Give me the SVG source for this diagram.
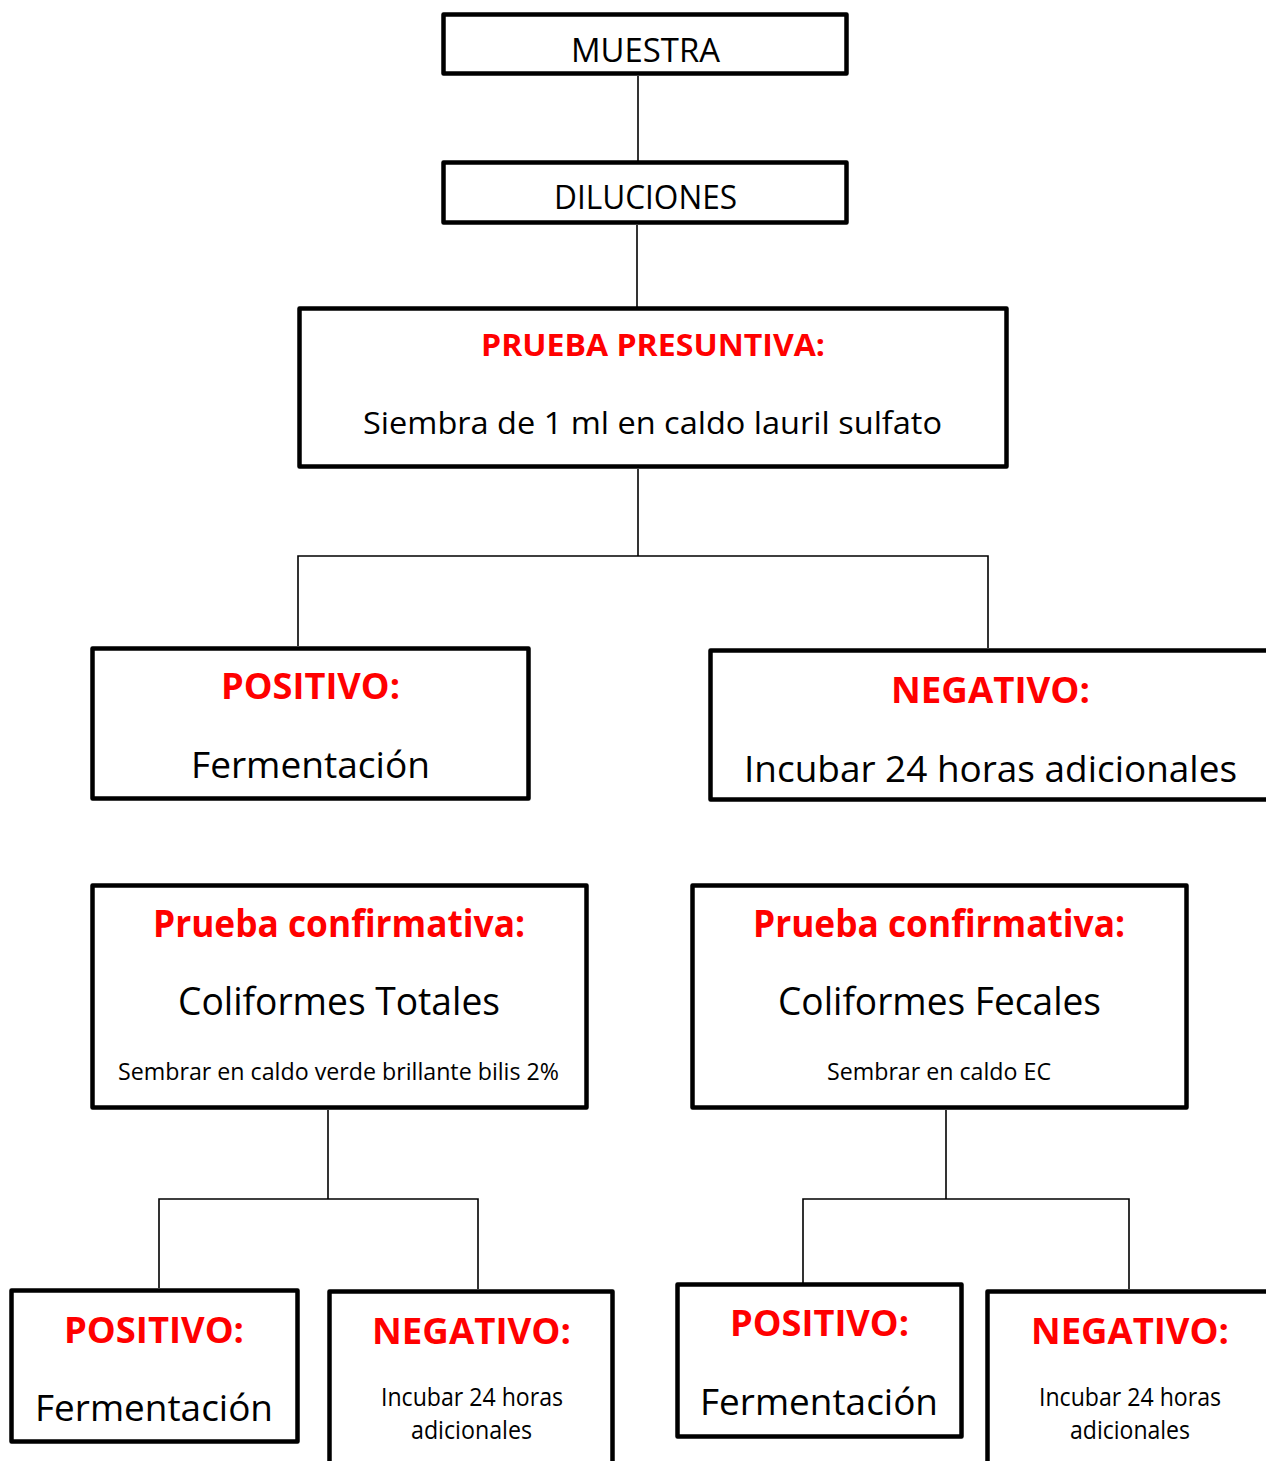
<svg xmlns="http://www.w3.org/2000/svg" width="1266" height="1461" viewBox="0 0 1266 1461">
<style>
.box{fill:#fff;stroke:#000;stroke-width:4.5;stroke-linejoin:round}
.ln{stroke:#000;stroke-width:1.6;fill:none}
text{font-family:"Open Sans","Noto Sans","Liberation Sans",sans-serif;text-anchor:middle;fill:#000}
.t{fill:#ff0000;font-weight:bold}
</style>
<rect width="1266" height="1461" fill="#fff"/>
<g id="connectors">
<line class="ln" x1="638" y1="76" x2="638" y2="162"/>
<line class="ln" x1="637" y1="225" x2="637" y2="308"/>
<polyline class="ln" points="638,469 638,556"/>
<polyline class="ln" points="298,646 298,556 988,556 988,648"/>
<polyline class="ln" points="328,1110 328,1199"/>
<polyline class="ln" points="159,1288 159,1199 478,1199 478,1289"/>
<polyline class="ln" points="946,1110 946,1199"/>
<polyline class="ln" points="803,1283 803,1199 1129,1199 1129,1289"/>
</g>
<g id="muestra">
<rect class="box" x="443.5" y="14.5" width="403" height="59"/>
<text x="645.5" y="62" font-size="32" textLength="149" lengthAdjust="spacingAndGlyphs">MUESTRA</text>
</g>
<g id="diluciones">
<rect class="box" x="443.5" y="162.5" width="403" height="60"/>
<text x="645.5" y="209" font-size="32" textLength="183" lengthAdjust="spacingAndGlyphs">DILUCIONES</text>
</g>
<g id="presuntiva">
<rect class="box" x="299.5" y="308.5" width="707" height="158"/>
<text class="t" x="653" y="356" font-size="31" textLength="344" lengthAdjust="spacingAndGlyphs">PRUEBA PRESUNTIVA:</text>
<text x="652.5" y="434" font-size="31" textLength="579" lengthAdjust="spacingAndGlyphs">Siembra de 1 ml en caldo lauril sulfato</text>
</g>
<g id="positivo1">
<rect class="box" x="92.5" y="648.5" width="436" height="150"/>
<text class="t" x="310.5" y="699" font-size="36" textLength="179" lengthAdjust="spacingAndGlyphs">POSITIVO:</text>
<text x="310.5" y="778" font-size="36" textLength="239" lengthAdjust="spacingAndGlyphs">Fermentación</text>
</g>
<g id="negativo1">
<rect class="box" x="710.5" y="650.5" width="560" height="149"/>
<text class="t" x="990.5" y="703" font-size="36" textLength="199" lengthAdjust="spacingAndGlyphs">NEGATIVO:</text>
<text x="990.5" y="782" font-size="37" textLength="493" lengthAdjust="spacingAndGlyphs">Incubar 24 horas adicionales</text>
</g>
<g id="confirmativa-totales">
<rect class="box" x="92.5" y="885.5" width="494" height="222"/>
<text class="t" x="339" y="937" font-size="37" textLength="372" lengthAdjust="spacingAndGlyphs">Prueba confirmativa:</text>
<text x="339" y="1015" font-size="38" textLength="322" lengthAdjust="spacingAndGlyphs">Coliformes Totales</text>
<text x="338.5" y="1080" font-size="24" textLength="441" lengthAdjust="spacingAndGlyphs">Sembrar en caldo verde brillante bilis 2%</text>
</g>
<g id="confirmativa-fecales">
<rect class="box" x="692.5" y="885.5" width="494" height="222"/>
<text class="t" x="939" y="937" font-size="37" textLength="372" lengthAdjust="spacingAndGlyphs">Prueba confirmativa:</text>
<text x="939.5" y="1015" font-size="38" textLength="323" lengthAdjust="spacingAndGlyphs">Coliformes Fecales</text>
<text x="939" y="1080" font-size="24" textLength="224" lengthAdjust="spacingAndGlyphs">Sembrar en caldo EC</text>
</g>
<g id="positivo2">
<rect class="box" x="11.5" y="1290.5" width="286" height="151"/>
<text class="t" x="154" y="1343" font-size="36" textLength="180" lengthAdjust="spacingAndGlyphs">POSITIVO:</text>
<text x="154" y="1421" font-size="36" textLength="238" lengthAdjust="spacingAndGlyphs">Fermentación</text>
</g>
<g id="negativo2">
<rect class="box" x="329.5" y="1291.5" width="283" height="180"/>
<text class="t" x="471.5" y="1344" font-size="36" textLength="199" lengthAdjust="spacingAndGlyphs">NEGATIVO:</text>
<text x="472" y="1406" font-size="25" textLength="182" lengthAdjust="spacingAndGlyphs">Incubar 24 horas</text>
<text x="471.5" y="1439" font-size="25" textLength="121" lengthAdjust="spacingAndGlyphs">adicionales</text>
</g>
<g id="positivo3">
<rect class="box" x="677.5" y="1284.5" width="284" height="152"/>
<text class="t" x="819.5" y="1336" font-size="36" textLength="179" lengthAdjust="spacingAndGlyphs">POSITIVO:</text>
<text x="819" y="1415" font-size="36" textLength="238" lengthAdjust="spacingAndGlyphs">Fermentación</text>
</g>
<g id="negativo3">
<rect class="box" x="987.5" y="1291.5" width="290" height="180"/>
<text class="t" x="1130" y="1344" font-size="36" textLength="198" lengthAdjust="spacingAndGlyphs">NEGATIVO:</text>
<text x="1130" y="1406" font-size="25" textLength="182" lengthAdjust="spacingAndGlyphs">Incubar 24 horas</text>
<text x="1130" y="1439" font-size="25" textLength="120" lengthAdjust="spacingAndGlyphs">adicionales</text>
</g>
</svg>
